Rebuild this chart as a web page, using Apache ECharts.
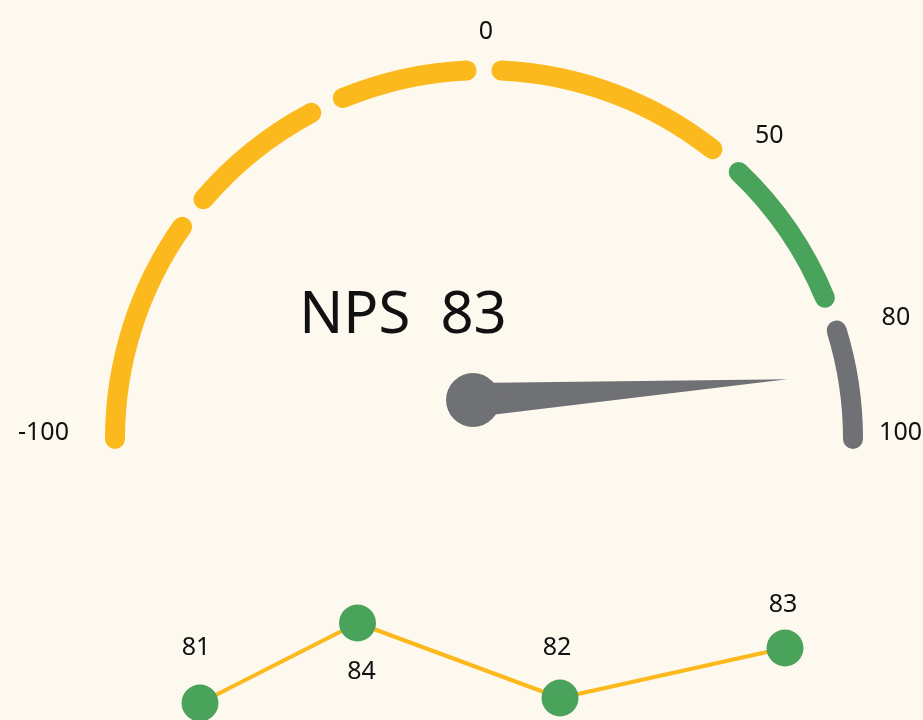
<!DOCTYPE html>
<html>
<head>
<meta charset="utf-8">
<script src="https://cdn.jsdelivr.net/npm/echarts@6/dist/echarts.min.js"></script>
<style>
  html, body { margin: 0; padding: 0; background: #fef9ef; }
  #chart { width: 923px; height: 720px; }
</style>
</head>
<body>
<div id="chart"></div>
<script>
// gauge data
const npsValue = 83;
const scaleMin = -100;
const scaleMax = 100;
const bandStops = [-100, -58, -28, 0, 45.5, 78, 100];
const bandColors = ['#fbb91e', '#fbb91e', '#fbb91e', '#fbb91e', '#4aa35a', '#707175'];
const tickLabels = [-100, 0, 50, 80, 100];

// trend data (day offset, plotted score, label text)
const trendDays = [0, 7, 16, 26];
const trendScores = [80.8, 84, 81, 83];
const trendLabels = ['81', '84', '82', '83'];

const FONT = 'Noto Sans';
const GAP = 2.7; // half gap between bands, degrees
const ARC_CENTER = [484, 439];

const chart = echarts.init(document.getElementById('chart'));

const toAngle = v => 180 - (v - scaleMin) / (scaleMax - scaleMin) * 180;

const hidden = {
  axisTick: { show: false },
  splitLine: { show: false },
  axisLabel: { show: false },
  pointer: { show: false },
  anchor: { show: false },
  title: { show: false },
  detail: { show: false }
};

// one gauge per coloured band, so every band gets its own round caps
const bandSeries = bandColors.map((color, i) => ({
  type: 'gauge',
  center: ARC_CENTER,
  radius: 379,
  min: bandStops[i],
  max: bandStops[i + 1],
  startAngle: toAngle(bandStops[i]) - (i > 0 ? GAP : 0),
  endAngle: toAngle(bandStops[i + 1]) + (i < bandColors.length - 1 ? GAP : 0),
  axisLine: { roundCap: true, lineStyle: { width: 20, color: [[1, color]] } },
  ...hidden,
  data: []
}));

// gauge labels are auto aligned (left / right / top), padding nudges them into place
const labelPad = {
  '-100': [0, 0, 13, 0],
  '0': [46, 0, 0, 4],
  '50': [53, 30, 0, 0],
  '80': [46, 17, 0, 0],
  '100': [0, 28, 13, 0]
};
const rich = {};
tickLabels.forEach((t, i) => {
  rich['t' + i] = { fontSize: 25, fontFamily: FONT, color: '#111', padding: labelPad[String(t)] };
});

const labelSeries = {
  type: 'gauge',
  center: ARC_CENTER,
  radius: 466,
  min: scaleMin,
  max: scaleMax,
  startAngle: 180,
  endAngle: 0,
  splitNumber: 20,
  axisLine: { show: false, lineStyle: { width: 0 } },
  axisTick: { show: false },
  splitLine: { show: false, length: 0, distance: 0 },
  axisLabel: {
    distance: 0,
    rich,
    formatter: v => {
      const i = tickLabels.indexOf(Math.round(v));
      return i < 0 ? '' : '{t' + i + '|' + tickLabels[i] + '}';
    }
  },
  pointer: { show: false },
  anchor: { show: false },
  title: { show: false },
  detail: { show: false },
  data: []
};

const needleSeries = {
  type: 'gauge',
  center: [473, 400],
  radius: 315,
  min: scaleMin,
  max: scaleMax,
  startAngle: 180,
  endAngle: -12.6,
  axisLine: { show: false },
  axisTick: { show: false },
  splitLine: { show: false },
  axisLabel: { show: false },
  pointer: {
    icon: 'path://M50,0 L100,100 L0,100 Z',
    length: '100%',
    width: 34,
    offsetCenter: [0, 0],
    itemStyle: { color: '#707175' }
  },
  anchor: { show: true, showAbove: true, size: 54, itemStyle: { color: '#707175' } },
  title: { show: false },
  detail: {
    offsetCenter: [-70, -84],
    fontSize: 58,
    fontFamily: FONT,
    fontWeight: 'normal',
    color: '#111',
    formatter: v => 'NPS  ' + v
  },
  data: [{ value: npsValue }]
};

const labelPlacement = [
  { position: 'top', distance: 24, offset: [-4, 0] },
  { position: 'bottom', distance: 18, offset: [4, 0] },
  { position: 'top', distance: 19, offset: [-3, 0] },
  { position: 'top', distance: 12, offset: [-2, 0] }
];

const trendSeries = {
  type: 'line',
  data: trendDays.map((d, i) => ({
    value: [d, trendScores[i]],
    label: { show: true, formatter: trendLabels[i], ...labelPlacement[i] }
  })),
  symbol: 'circle',
  symbolSize: 37,
  itemStyle: { color: '#4aa35a' },
  lineStyle: { color: '#fbb91e', width: 4 },
  label: { fontSize: 25, fontFamily: FONT, color: '#111' },
  z: 3
};

chart.setOption({
  animation: false,
  backgroundColor: '#fef9ef',
  grid: { left: 200, right: 138, top: 610.5, bottom: 9.5 },
  xAxis: { type: 'value', min: 0, max: 26, show: false },
  yAxis: { type: 'value', min: 80.5, max: 84.5, show: false },
  series: [...bandSeries, labelSeries, needleSeries, trendSeries]
});
</script>
</body>
</html>
